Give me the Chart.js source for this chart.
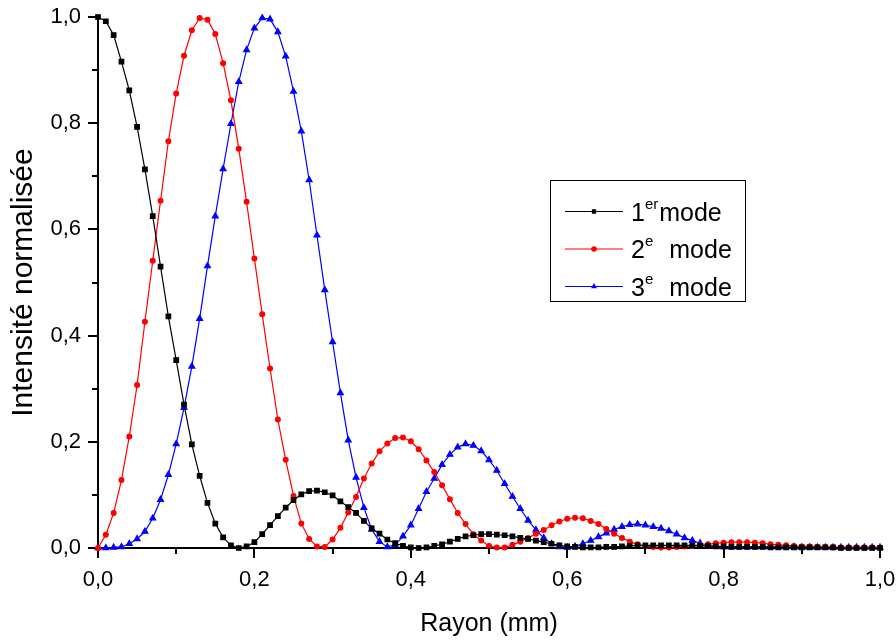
<!DOCTYPE html>
<html>
<head>
<meta charset="utf-8">
<script src="https://cdn.jsdelivr.net/npm/chart.js@4.4.1/dist/chart.umd.min.js"></script>
<style>
html, body { margin: 0; padding: 0; background: #fff; }
#wrap { width: 896px; height: 641px; position: relative; }
</style>
</head>
<body>
<div id="wrap"><canvas id="mainChart"></canvas></div>
<script>
// rayon (mm)
const radius = [
	0.00,0.01,0.02,0.03,0.04,0.05,0.06,0.07,0.08,0.09,
	0.10,0.11,0.12,0.13,0.14,0.15,0.16,0.17,0.18,0.19,
	0.20,0.21,0.22,0.23,0.24,0.25,0.26,0.27,0.28,0.29,
	0.30,0.31,0.32,0.33,0.34,0.35,0.36,0.37,0.38,0.39,
	0.40,0.41,0.42,0.43,0.44,0.45,0.46,0.47,0.48,0.49,
	0.50,0.51,0.52,0.53,0.54,0.55,0.56,0.57,0.58,0.59,
	0.60,0.61,0.62,0.63,0.64,0.65,0.66,0.67,0.68,0.69,
	0.70,0.71,0.72,0.73,0.74,0.75,0.76,0.77,0.78,0.79,
	0.80,0.81,0.82,0.83,0.84,0.85,0.86,0.87,0.88,0.89,
	0.90,0.91,0.92,0.93,0.94,0.95,0.96,0.97,0.98,0.99,1.00
];

// 1er mode
const mode1 = [
	1.000,0.992,0.966,0.916,0.862,0.793,0.713,0.625,0.530,0.436,
	0.354,0.270,0.195,0.136,0.085,0.046,0.020,0.005,0.000,0.003,
	0.011,0.026,0.043,0.060,0.076,0.090,0.101,0.107,0.108,0.105,
	0.099,0.088,0.077,0.066,0.051,0.037,0.027,0.016,0.009,0.004,
	0.001,0.000,0.001,0.004,0.007,0.012,0.017,0.022,0.024,0.026,
	0.026,0.025,0.024,0.022,0.019,0.017,0.014,0.011,0.008,0.005,
	0.003,0.002,0.001,0.001,0.001,0.002,0.002,0.003,0.004,0.005,
	0.005,0.005,0.005,0.005,0.005,0.005,0.005,0.004,0.004,0.003,
	0.003,0.002,0.002,0.002,0.002,0.002,0.001,0.001,0.001,0.001,
	0.001,0.001,0.001,0.001,0.001,0.000,0.000,0.000,0.000,0.000,0.000
];

// 2e mode
const mode2 = [
	0.000,0.025,0.066,0.128,0.210,0.307,0.426,0.541,0.654,0.766,
	0.856,0.927,0.975,0.998,0.995,0.968,0.913,0.843,0.752,0.652,
	0.545,0.440,0.338,0.242,0.166,0.098,0.046,0.017,0.003,0.002,
	0.016,0.038,0.067,0.096,0.131,0.159,0.182,0.197,0.207,0.208,
	0.201,0.186,0.165,0.143,0.118,0.092,0.066,0.045,0.026,0.014,
	0.004,0.001,0.001,0.006,0.012,0.019,0.027,0.034,0.043,0.050,
	0.055,0.057,0.056,0.051,0.045,0.036,0.027,0.019,0.012,0.007,
	0.003,0.002,0.001,0.001,0.002,0.003,0.004,0.005,0.007,0.009,
	0.010,0.011,0.011,0.011,0.010,0.009,0.007,0.006,0.005,0.004,
	0.003,0.003,0.002,0.002,0.001,0.001,0.001,0.001,0.001,0.001,0.001
];

// 3e mode
const mode3 = [
	0.000,0.000,0.001,0.002,0.008,0.017,0.031,0.056,0.091,0.138,
	0.196,0.264,0.342,0.432,0.531,0.625,0.714,0.799,0.878,0.938,
	0.979,0.998,0.996,0.972,0.926,0.860,0.785,0.693,0.589,0.486,
	0.388,0.292,0.203,0.133,0.076,0.035,0.012,0.002,0.006,0.022,
	0.043,0.074,0.106,0.131,0.157,0.176,0.190,0.196,0.193,0.183,
	0.166,0.146,0.121,0.097,0.074,0.052,0.034,0.019,0.008,0.002,
	0.001,0.003,0.008,0.014,0.021,0.028,0.035,0.040,0.044,0.045,
	0.043,0.040,0.037,0.032,0.026,0.019,0.014,0.009,0.005,0.003,
	0.002,0.002,0.002,0.002,0.002,0.002,0.002,0.002,0.002,0.002,
	0.001,0.001,0.001,0.001,0.001,0.001,0.001,0.001,0.001,0.001,0.001
];

// legend text: main, superscript, rest
const legendLabels = [
	["1", "er", "mode"],
	["2", "e", "mode"],
	["3", "e", "mode"]
];

const FONT = '"Liberation Sans", Arial, sans-serif';
Chart.defaults.font.family = FONT;
Chart.defaults.color = "#000";

function pts(ys) {
	return radius.map((r, i) => ({ x: r, y: ys[i] }));
}

function comma(v) {
	return v.toFixed(1).replace(".", ",");
}

// minor ticks every 0.1 (Chart.js only draws the major ones)
const minorTicks = {
	id: "minorTicks",
	afterDraw(chart) {
		const ctx = chart.ctx;
		const xs = chart.scales.x, ys = chart.scales.y;
		ctx.save();
		ctx.strokeStyle = "#000";
		ctx.lineWidth = 2;
		ctx.beginPath();
		[0.1, 0.3, 0.5, 0.7, 0.9].forEach(v => {
			const px = Math.round(xs.getPixelForValue(v));
			ctx.moveTo(px, ys.bottom);
			ctx.lineTo(px, ys.bottom + 6);
			const py = Math.round(ys.getPixelForValue(v));
			ctx.moveTo(xs.left, py);
			ctx.lineTo(xs.left - 6, py);
		});
		ctx.stroke();
		ctx.restore();
	}
};

// framed legend with superscripts
const legendBox = {
	id: "legendBox",
	afterDraw(chart) {
		const ctx = chart.ctx;
		ctx.save();
		ctx.strokeStyle = "#000";
		ctx.lineWidth = 1;
		ctx.strokeRect(550.5, 180.5, 195, 121);
		const gaps = [1, 16, 16];
		legendLabels.forEach((parts, i) => {
			const ds = chart.data.datasets[i];
			const y = 211.5 + i * 37.5;
			ctx.strokeStyle = ds.borderColor;
			ctx.lineWidth = 1.2;
			ctx.beginPath();
			ctx.moveTo(565, y);
			ctx.lineTo(623, y);
			ctx.stroke();
			ctx.fillStyle = ds.pointBackgroundColor;
			ctx.strokeStyle = ds.borderColor;
			Chart.helpers.drawPoint(ctx, { pointStyle: ds.pointStyle, radius: 2.2, borderWidth: 1, rotation: 0 }, 594, y);
			ctx.fillStyle = "#000";
			ctx.textBaseline = "alphabetic";
			ctx.textAlign = "left";
			let x = 631;
			ctx.font = "25px " + FONT;
			ctx.fillText(parts[0], x, y + 9);
			x += ctx.measureText(parts[0]).width;
			ctx.font = "15px " + FONT;
			ctx.fillText(parts[1], x, y - 3);
			x += ctx.measureText(parts[1]).width + gaps[i];
			ctx.font = "25px " + FONT;
			ctx.fillText(parts[2], x, y + 9);
		});
		ctx.restore();
	}
};

new Chart("mainChart", {
	type: "line",
	data: {
		datasets: [{
			label: "1er mode",
			data: pts(mode1),
			borderColor: "#000000",
			backgroundColor: "#000000",
			pointBackgroundColor: "#000000",
			pointStyle: "rect",
			pointRadius: 3.2,
			borderWidth: 1.2,
			clip: false
		}, {
			label: "2e mode",
			data: pts(mode2),
			borderColor: "#ff0000",
			backgroundColor: "#ff0000",
			pointBackgroundColor: "#ff0000",
			pointStyle: "circle",
			pointRadius: 2.4,
			borderWidth: 1.2,
			clip: false
		}, {
			label: "3e mode",
			data: pts(mode3),
			borderColor: "#0000ff",
			backgroundColor: "#0000ff",
			pointBackgroundColor: "#0000ff",
			pointStyle: "triangle",
			pointRadius: 3.4,
			borderWidth: 1.2,
			clip: false
		}]
	},
	options: {
		responsive: true,
		maintainAspectRatio: false,
		animation: false,
		layout: { padding: { top: 17, right: 16, left: 0, bottom: 0 } },
		elements: { point: { borderWidth: 1 }, line: { tension: 0 } },
		plugins: {
			legend: { display: false },
			tooltip: { enabled: false }
		},
		scales: {
			x: {
				type: "linear",
				min: 0,
				max: 1,
				afterFit(s) { s.height = 93; s.paddingLeft = 0; s.paddingRight = 0; },
				border: { display: true, color: "#000", width: 2 },
				grid: { drawOnChartArea: false, drawTicks: true, tickLength: 10, color: "#000", lineWidth: 2 },
				ticks: { stepSize: 0.2, padding: 9, font: { size: 22 }, color: "#000", callback: v => comma(v), maxRotation: 0 },
				title: { display: true, text: "Rayon (mm)", font: { size: 25 }, color: "#000", padding: { top: 0, bottom: 2 } }
			},
			y: {
				min: 0,
				max: 1,
				afterFit(s) { s.width = 98; s.paddingTop = 0; s.paddingBottom = 0; },
				border: { display: true, color: "#000", width: 2 },
				grid: { drawOnChartArea: false, drawTicks: true, tickLength: 10, color: "#000", lineWidth: 2 },
				ticks: { stepSize: 0.2, padding: 7, font: { size: 22 }, color: "#000", callback: v => comma(v) },
				title: { display: true, text: "Intensité normalisée", font: { size: 30 }, color: "#000", padding: { top: 6, bottom: 0 } }
			}
		}
	},
	plugins: [minorTicks, legendBox]
});
</script>
</body>
</html>
